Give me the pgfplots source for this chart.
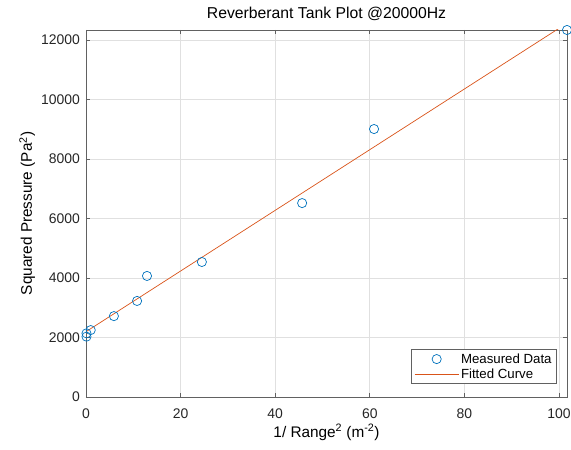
\documentclass[border=0pt]{standalone}
\usepackage{pgfplots}
\pgfplotsset{compat=1.18}
\usepackage{fontspec}
\setmainfont{Liberation Sans}
\definecolor{mblue}{rgb}{0,0.447,0.741}
\definecolor{morange}{rgb}{0.85,0.325,0.098}
\definecolor{axgray}{rgb}{0.38,0.38,0.38}
\definecolor{gridgray}{rgb}{0.88,0.88,0.88}
\pgfplotsset{
  markleg/.style={legend image code/.code={\draw[##1] plot[only marks] coordinates {(22bp,0bp)};}},
  lineleg/.style={legend image code/.code={\draw[##1] (0bp,0bp) -- (44bp,0bp);}},
}
\begin{document}
\begin{tikzpicture}
\useasboundingbox (-86bp,-53bp) rectangle (485bp,397bp);
\begin{axis}[
  at={(0,0)}, anchor=south west,
  scale only axis, width=481bp, height=367bp,
  xmin=0, xmax=101.7, ymin=0, ymax=12340,
  xtick={0,20,40,60,80,100},
  ytick={0,2000,4000,6000,8000,10000,12000},
  scaled y ticks=false, scaled x ticks=false,
  /pgf/number format/.cd, fixed, 1000 sep={}, assume math mode=true, /pgfplots/.cd,
  tick label style={font=\fontsize{14}{16}\selectfont, text=black!85},
  xticklabel style={anchor=base, inner sep=0pt, yshift=-21bp},
  yticklabel style={anchor=east, inner sep=0pt, xshift=-6bp},
  tick align=inside, major tick length=4bp,
  tick style={axgray, line width=0.6bp},
  axis line style={axgray, line width=0.6bp},
  grid=major, major grid style={gridgray, line width=0.6bp},
  title={Reverberant Tank Plot @20000Hz},
  title style={font=\fontsize{15.8}{18}\selectfont, at={(axis description cs:0.5,1)}, anchor=base, inner sep=0pt, yshift=6bp},
  xlabel={1/ Range\textsuperscript{2} (m\textsuperscript{-2})},
  xlabel style={font=\fontsize{15.4}{18}\selectfont, at={(axis description cs:0.5,-0.109)}, anchor=base, inner sep=0pt},
  ylabel={Squared Pressure (Pa\textsuperscript{2})},
  ylabel style={font=\fontsize{15.4}{18}\selectfont, at={(axis description cs:-0.1123,0.5)}, anchor=base, inner sep=0pt},
  legend style={at={(axis description cs:0.979,0.0354)}, anchor=south east, draw=axgray, line width=0.6bp,
    font=\fontsize{13.3}{16}\selectfont, inner xsep=3bp, inner ysep=2bp, row sep=0pt, cells={anchor=west}},
  legend cell align=left,
]
\addplot[only marks, mark=o, mark size=4.6bp, mblue, line width=0.7bp, markleg]
  coordinates {
  (0.1,2030) (0.1,2140) (1.0,2250) (5.9,2720) (10.8,3230) (12.9,4070)
  (24.5,4540) (45.7,6520) (60.9,9010) (101.7,12340)
  };
\addlegendentry{Measured Data}
\addplot[morange, line width=0.7bp, no marks, lineleg]
  coordinates {(0,2196) (101.7,12569)};
\addlegendentry{Fitted Curve}
\end{axis}
\end{tikzpicture}
\end{document}
